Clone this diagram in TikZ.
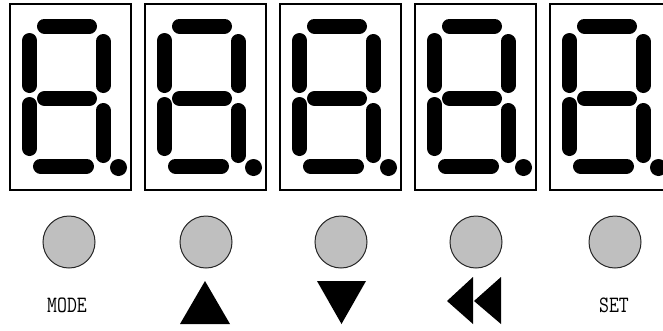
\documentclass[tikz,border=0pt]{standalone}
\usepackage{fontspec}
\setmonofont[FakeStretch=0.82]{Latin Modern Mono}
\usetikzlibrary{positioning}

\begin{document}
\begin{tikzpicture}[x=0.03cm, y=-0.03cm,
  digitbox/.style={draw=black, line width=0.06cm},
  seg/.style={line width=0.45cm, line cap=round},
  button/.style={circle, draw=black!85, fill=black!25, line width=0.03cm,
    minimum size=1.56cm, inner sep=0pt},
  keylbl/.style={font=\ttfamily\fontsize{20}{20}\selectfont, inner sep=0pt}
]
  \useasboundingbox (0,0) rectangle (663,330);
  \clip (0,0) rectangle (663,330);

  % Seven-segment digits, every segment lit
  \foreach \bx in {10,145,280,415,550}{
    \draw[digitbox] (\bx,4) rectangle (\bx+121,190);
    \draw[seg] (\bx+34.5,26) -- (\bx+79.5,26);
    \draw[seg] (\bx+19.5,40.5) -- (\bx+19.5,85.5);
    \draw[seg] (\bx+93,41.5) -- (\bx+93,85.5);
    \draw[seg] (\bx+34.5,98.5) -- (\bx+79.5,98.5);
    \draw[seg] (\bx+19.5,104.5) -- (\bx+19.5,148.5);
    \draw[seg] (\bx+93,110.5) -- (\bx+93,155.5);
    \draw[seg] (\bx+30.5,166) -- (\bx+76.5,166);
    \fill (\bx+108.5,167.5) circle (8.5);
  }

  % Keys
  \foreach \i/\x in {1/69, 2/206, 3/341, 4/476, 5/615}{
    \node[button] (btn\i) at (\x,242) {};
  }

  % Key labels
  \node[keylbl] (lbl-mode) at (67,305) {MODE};
  \node[keylbl] (lbl-set) at (614,305) {SET};
  \fill (180,324) -- (230,324) -- (205,281) -- cycle;
  \fill (317,281) -- (366,281) -- (341.5,324) -- cycle;
  \fill (447,301) -- (473,277) -- (473,324) -- cycle;
  \fill (474,301) -- (501,277) -- (501,324) -- cycle;

\end{tikzpicture}
\end{document}
